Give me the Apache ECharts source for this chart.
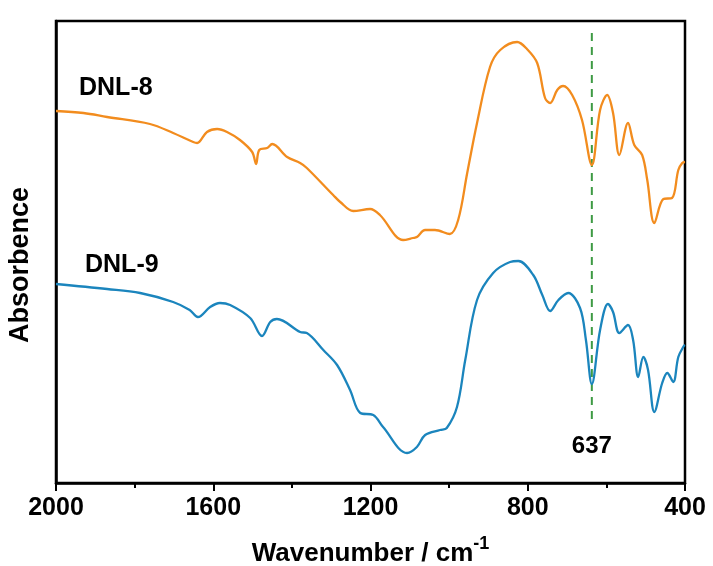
<!DOCTYPE html>
<html>
<head>
<meta charset="utf-8">
<script src="https://cdn.jsdelivr.net/npm/echarts@6/dist/echarts.min.js"></script>
<style>html,body{margin:0;padding:0;background:#fff}#c{width:713px;height:566px}</style>
</head>
<body>
<div id="c"></div>
<script>
// Wavenumber (cm-1) and absorbance (arbitrary units, offset stacked)
var dnl8Wave = [2000,1930,1870,1761,1702,1651,1641,1616,1590,1565,1532,1501,1491,1483,1463,1450,1412,1379,1362,1295,1277,1244,1201,1176,1117,1092,1082,1061,1036,998,977,954,929,896,870,827,802,776,756,743,725,710,687,662,637,616,598,583,567,545,529,509,496,478,455,433,417,407,400];
var dnl8Abs  = [372,370,366,359,350,341,340,351,354,351,343,331,319,333,335,339,326,320,315,288,281,272,274,268,243,245,246,253,253,249,263,310,360,416,433,441,434,420,385,380,393,397,388,363,318,373,388,370,328,360,338,328,303,260,284,285,313,320,321];

var dnl9Wave = [2000,1870,1786,1702,1660,1639,1608,1583,1557,1506,1476,1455,1438,1379,1362,1320,1285,1252,1226,1193,1168,1107,1082,1061,1023,1006,980,959,929,888,845,824,786,763,743,722,697,667,652,637,616,596,583,567,545,532,519,506,494,478,458,445,430,417,403,400];
var dnl9Abs  = [199,194,190,181,173,166,176,180,178,165,147,161,164,151,150,133,118,93,70,68,56,30,36,48,53,55,76,123,183,210,221,222,208,188,172,183,190,175,143,99,153,179,171,150,158,143,106,126,113,71,100,110,101,126,137,138];

var markerWave = [637, 637];
var markerAbs = [450, 60];
var markerText = '637';

var xTicks = [2000, 1600, 1200, 800, 400];
var seriesNames = ['DNL-8', 'DNL-9'];

function pairs(xs, ys) { return xs.map(function (x, i) { return [x, ys[i]]; }); }

var FONT = '"Liberation Sans", Arial, sans-serif';
var chart = echarts.init(document.getElementById('c'), null, { renderer: 'canvas' });
chart.setOption({
  animation: false,
  backgroundColor: '#ffffff',
  grid: { left: 56, right: 28, top: 21, bottom: 83, outerBoundsMode: 'none', containLabel: false, show: true, borderColor: '#000', borderWidth: 2.5, backgroundColor: 'transparent' },
  xAxis: {
    type: 'value', min: 400, max: 2000, interval: 400, inverse: true,
    name: '{a|Wavenumber / cm}{b|-1}', nameLocation: 'middle', nameGap: 52,
    nameTextStyle: {
      rich: {
        a: { fontFamily: FONT, fontWeight: 'bold', fontSize: 26, color: '#000', lineHeight: 32, verticalAlign: 'bottom' },
        b: { fontFamily: FONT, fontWeight: 'bold', fontSize: 18, color: '#000', lineHeight: 18, verticalAlign: 'top' }
      }
    },
    axisLine: { lineStyle: { color: '#000', width: 2.5 } },
    axisTick: { show: true, inside: false, length: 8, lineStyle: { color: '#000', width: 2 } },
    minorTick: { show: true, splitNumber: 2, length: 5, lineStyle: { color: '#000', width: 2 } },
    axisLabel: {
      fontFamily: FONT, fontWeight: 'bold', fontSize: 25, color: '#000', margin: 13, showMinLabel: true, showMaxLabel: true,
      formatter: function (v) { return xTicks.indexOf(v) >= 0 ? String(v) : ''; }
    },
    splitLine: { show: false }
  },
  yAxis: {
    type: 'value', min: 0, max: 462,
    name: 'Absorbence', nameLocation: 'middle', nameGap: 22, nameRotate: 90,
    nameTextStyle: { fontFamily: FONT, fontWeight: 'bold', fontSize: 27, color: '#000', padding: [0, 26, 0, 0] },
    axisLine: { show: true, lineStyle: { color: '#000', width: 2.5 } },
    axisTick: { show: false }, axisLabel: { show: false }, splitLine: { show: false }
  },
  graphic: [
    { type: 'text', left: 79, top: 76, style: { text: seriesNames[0], font: 'bold 25px ' + FONT, fill: '#000' } },
    { type: 'text', left: 85, top: 253, style: { text: seriesNames[1], font: 'bold 25px ' + FONT, fill: '#000' } }
  ],
  series: [
    {
      name: seriesNames[0], type: 'line', data: pairs(dnl8Wave, dnl8Abs), smooth: 0.35, showSymbol: false,
      lineStyle: { color: '#F28C1E', width: 2.3 }, z: 3
    },
    {
      name: seriesNames[1], type: 'line', data: pairs(dnl9Wave, dnl9Abs), smooth: 0.35, showSymbol: false,
      lineStyle: { color: '#1B85BD', width: 2.3 }, z: 3
    },
    {
      name: 'marker', type: 'line', data: pairs(markerWave, markerAbs), showSymbol: true, symbolSize: 0.1,
      lineStyle: { color: '#3E9A44', width: 2, type: [8, 6] }, itemStyle: { color: 'transparent' }, z: 2,
      label: {
        show: true, position: 'bottom', distance: 10,
        formatter: function (p) { return p.dataIndex === 1 ? markerText : ''; },
        fontFamily: FONT, fontWeight: 'bold', fontSize: 24, color: '#000'
      }
    }
  ]
});
</script>
</body>
</html>
